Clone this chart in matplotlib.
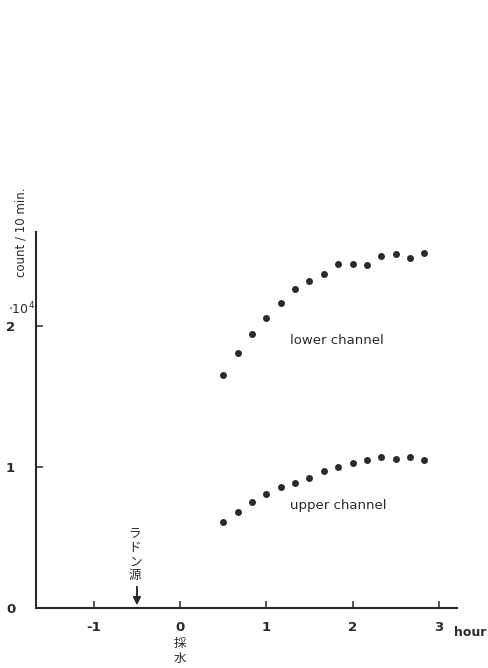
import matplotlib
matplotlib.use("Agg")
import matplotlib.pyplot as plt

plt.rcParams['font.family'] = ['DejaVu Sans', 'Noto Sans CJK JP']

# data (hours after sampling, counts per 10 min in units of 1e4)
lower_x = [0.5, 0.67, 0.83, 1.0, 1.17, 1.33, 1.5, 1.67, 1.83, 2.0, 2.17, 2.33, 2.5, 2.67, 2.83]
lower_y = [1.65, 1.81, 1.94, 2.06, 2.16, 2.26, 2.32, 2.37, 2.44, 2.44, 2.43, 2.50, 2.51, 2.48, 2.52]
upper_x = [0.5, 0.67, 0.83, 1.0, 1.17, 1.33, 1.5, 1.67, 1.83, 2.0, 2.17, 2.33, 2.5, 2.67, 2.83]
upper_y = [0.61, 0.68, 0.75, 0.81, 0.86, 0.89, 0.92, 0.97, 1.00, 1.03, 1.05, 1.07, 1.06, 1.07, 1.05]
x_ticks = [-1, 0, 1, 2, 3]
y_ticks = [0, 1, 2]
radon_time = -0.5
radon_chars = ['ラ', 'ド', 'ン', '源']
sample_chars = ['採', '水']

ink = '#2a2a2a'
fig = plt.figure(figsize=(4.88, 6.68), dpi=100)
ax = fig.add_axes([0.0738, 0.0898, 0.8627, 0.5629])
ax.set_xlim(-1.67, 3.21)
ax.set_ylim(0, 2.667)

ax.plot(lower_x, lower_y, 'o', color=ink, ms=5.0, mec='none')
ax.plot(upper_x, upper_y, 'o', color=ink, ms=5.0, mec='none')

for s in ['top', 'right']:
    ax.spines[s].set_visible(False)
for s in ['left', 'bottom']:
    ax.spines[s].set_color(ink)
    ax.spines[s].set_linewidth(1.5)

ax.set_xticks(x_ticks)
ax.set_xticklabels(['-1', '0', '1', '2', '3'], fontweight='bold')
ax.set_yticks(y_ticks)
ax.set_yticklabels(['0', '1', '2'], fontweight='bold')
ax.tick_params(axis='both', direction='in', length=5, width=1.1, color=ink,
               labelsize=9.5, labelcolor=ink)
ax.tick_params(axis='x', pad=9)
ax.tick_params(axis='y', pad=15)

ax.text(1.27, 1.90, 'lower channel', fontsize=9.5, color=ink, ha='left', va='center')
ax.text(1.27, 0.73, 'upper channel', fontsize=9.5, color=ink, ha='left', va='center')

# radon source arrow
ax.annotate('', xy=(radon_time, 0.0), xytext=(radon_time, 0.17),
            arrowprops=dict(arrowstyle='-|>', color=ink, lw=1.4, mutation_scale=11))
radon_py = [533, 548, 562, 576]
for ch, py in zip(radon_chars, radon_py):
    fig.text(135/488, 1 - py/668, ch, fontsize=9, color=ink, ha='center', va='center',
             family=['Noto Sans CJK JP'])

# x-axis extra labels
sample_py = [644, 658]
for ch, py in zip(sample_chars, sample_py):
    fig.text(180/488, 1 - py/668, ch, fontsize=9, color=ink, ha='center', va='center',
             family=['Noto Sans CJK JP'])
fig.text(470/488, 1 - 633/668, 'hour', fontsize=9, color=ink, ha='center', va='center',
         fontweight='bold')

# y-axis label
fig.text(21/488, 1 - 232/668, 'count / 10 min.', fontsize=8.5, color=ink, rotation=90,
         ha='center', va='center')
fig.text(21/488, 1 - 309/668, '$\\mathregular{\\cdot 10^4}$', fontsize=9, color=ink,
         ha='center', va='center')

fig.savefig('out.png', dpi=100)
